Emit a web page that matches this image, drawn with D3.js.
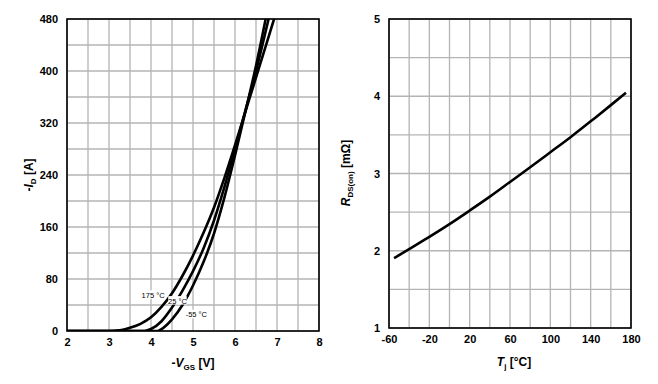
<!DOCTYPE html>
<meta charset="utf-8">
<html>
<head>
<style>
  body { margin: 0; background: #fff; }
  text { font-family: "Liberation Sans", Arial, sans-serif; }
  .tick text { font-size: 11px; font-weight: bold; fill: #000; }
  .grid line { stroke: #b4b4b4; stroke-width: 1.3px; }
  .frame { fill: none; stroke: #000; stroke-width: 1.6px; }
  .curve { fill: none; stroke: #000; stroke-width: 2.6px; }
  .title { font-size: 12px; font-weight: bold; }
  .lbl { font-size: 7.5px; }
</style>
<script src="https://d3js.org/d3.v7.min.js"></script>
</head>
<body>
<script>
// transfer characteristics, -ID vs -VGS
var vgsTicks = [2, 3, 4, 5, 6, 7, 8];
var idTicks = [0, 80, 160, 240, 320, 400, 480];
var tempLabels = ["175 °C", "25 °C", "-55 °C"];
var vgs175 = [3.0, 3.25, 3.5, 3.75, 4.0, 4.25, 4.5, 4.75, 5.0, 5.25, 5.5, 5.75, 6.0, 6.25, 6.5, 6.75, 6.93];
var id175  = [0, 1, 5, 11, 21, 37, 58, 85, 116, 151, 190, 236, 286, 338, 390, 442, 480];
var vgs25  = [3.85, 4.0, 4.25, 4.5, 4.75, 5.0, 5.25, 5.5, 5.75, 6.0, 6.25, 6.5, 6.8];
var id25   = [0, 3, 15, 36, 62, 92, 127, 170, 222, 280, 340, 400, 480];
var vgsM55 = [4.15, 4.25, 4.5, 4.75, 5.0, 5.25, 5.5, 5.75, 6.0, 6.25, 6.5, 6.73];
var idM55  = [0, 3, 18, 40, 70, 106, 150, 206, 270, 338, 408, 480];
var labelX = [4.05, 4.63, 5.08];
var labelY = [55, 46, 25];

// RDS(on) vs Tj
var tjTicks = [-60, -20, 20, 60, 100, 140, 180];
var rTicks = [1, 2, 3, 4, 5];
var tj = [-55, -40, -20, 0, 20, 40, 60, 80, 100, 120, 140, 160, 175];
var rds = [1.905, 2.02, 2.18, 2.345, 2.52, 2.70, 2.89, 3.08, 3.275, 3.47, 3.675, 3.885, 4.045];

var svg = d3.select("body").append("svg")
    .attr("width", 658)
    .attr("height", 384);

function panel(xd, yd, xt, yt, xg, yg, box) {
  var x = d3.scaleLinear().domain(xd).range([box.l, box.r]);
  var y = d3.scaleLinear().domain(yd).range([box.b, box.t]);
  var g = svg.append("g");
  var grid = g.append("g").attr("class", "grid");
  grid.selectAll(".gx").data(xg).enter().append("line")
      .attr("x1", x).attr("x2", x).attr("y1", box.t).attr("y2", box.b);
  grid.selectAll(".gy").data(yg).enter().append("line")
      .attr("y1", y).attr("y2", y).attr("x1", box.l).attr("x2", box.r);
  g.append("rect").attr("class", "frame")
      .attr("x", box.l).attr("y", box.t)
      .attr("width", box.r - box.l).attr("height", box.b - box.t);
  g.append("g").attr("transform", "translate(0," + box.b + ")")
      .call(d3.axisBottom(x).tickValues(xt).tickFormat(String).tickSize(0).tickPadding(7))
      .call(function(s) { s.select(".domain").remove(); });
  g.append("g").attr("transform", "translate(" + box.l + ",0)")
      .call(d3.axisLeft(y).tickValues(yt).tickFormat(String).tickSize(0).tickPadding(9))
      .call(function(s) { s.select(".domain").remove(); });
  return {x: x, y: y, g: g};
}

var p1 = panel([2, 8], [0, 480], vgsTicks, idTicks,
    d3.range(2, 8.01, 0.5), d3.range(0, 481, 40),
    {l: 67, r: 319, t: 19, b: 331});

var line1 = d3.line()
    .x(function(d) { return p1.x(d[0]); })
    .y(function(d) { return p1.y(d[1]); })
    .curve(d3.curveMonotoneX);

svg.append("clipPath").attr("id", "c1").append("rect")
    .attr("x", 67).attr("y", 19).attr("width", 252).attr("height", 312);

[[vgs175, id175], [vgs25, id25], [vgsM55, idM55]].forEach(function(s) {
  var pts = [[2, 0]].concat(d3.zip(s[0], s[1]));
  p1.g.append("path").attr("class", "curve")
      .attr("clip-path", "url(#c1)")
      .attr("d", line1(pts));
});

tempLabels.forEach(function(t, i) {
  var gx = p1.x(labelX[i]), gy = p1.y(labelY[i]);
  var w = t.length * 3.7;
  p1.g.append("rect").attr("x", gx - w / 2).attr("y", gy - 5)
      .attr("width", w).attr("height", 8.5).attr("fill", "#fff");
  p1.g.append("text").attr("class", "lbl")
      .attr("x", gx).attr("y", gy + 2.7)
      .attr("text-anchor", "middle").text(t);
});

var t1 = svg.append("text").attr("class", "title")
    .attr("transform", "translate(33,175) rotate(-90)")
    .attr("text-anchor", "middle");
t1.append("tspan").text("-");
t1.append("tspan").attr("font-style", "italic").text("I");
t1.append("tspan").attr("font-size", "8px").attr("dy", 3).text("D");
t1.append("tspan").attr("dy", -3).text(" [A]");

var t2 = svg.append("text").attr("class", "title")
    .attr("x", 193).attr("y", 367).attr("text-anchor", "middle");
t2.append("tspan").text("-");
t2.append("tspan").attr("font-style", "italic").text("V");
t2.append("tspan").attr("font-size", "8px").attr("dy", 3).text("GS");
t2.append("tspan").attr("dy", -3).text(" [V]");

var p2 = panel([-60, 180], [1, 5], tjTicks, rTicks,
    d3.range(-60, 181, 20), d3.range(1, 5.01, 0.5),
    {l: 389, r: 631, t: 19, b: 328});

var line2 = d3.line()
    .x(function(d) { return p2.x(d[0]); })
    .y(function(d) { return p2.y(d[1]); })
    .curve(d3.curveNatural);

p2.g.append("path").attr("class", "curve")
    .attr("d", line2(d3.zip(tj, rds)));

var t3 = svg.append("text").attr("class", "title")
    .attr("transform", "translate(350,173) rotate(-90)")
    .attr("text-anchor", "middle");
t3.append("tspan").attr("font-style", "italic").text("R");
t3.append("tspan").attr("font-size", "8px").attr("dy", 3).text("DS(on)");
t3.append("tspan").attr("dy", -3).text(" [mΩ]");

var t4 = svg.append("text").attr("class", "title")
    .attr("x", 514).attr("y", 366).attr("text-anchor", "middle");
t4.append("tspan").attr("font-style", "italic").text("T");
t4.append("tspan").attr("font-size", "8px").attr("dy", 3).text("j");
t4.append("tspan").attr("dy", -3).text(" [°C]");
</script>
</body>
</html>
